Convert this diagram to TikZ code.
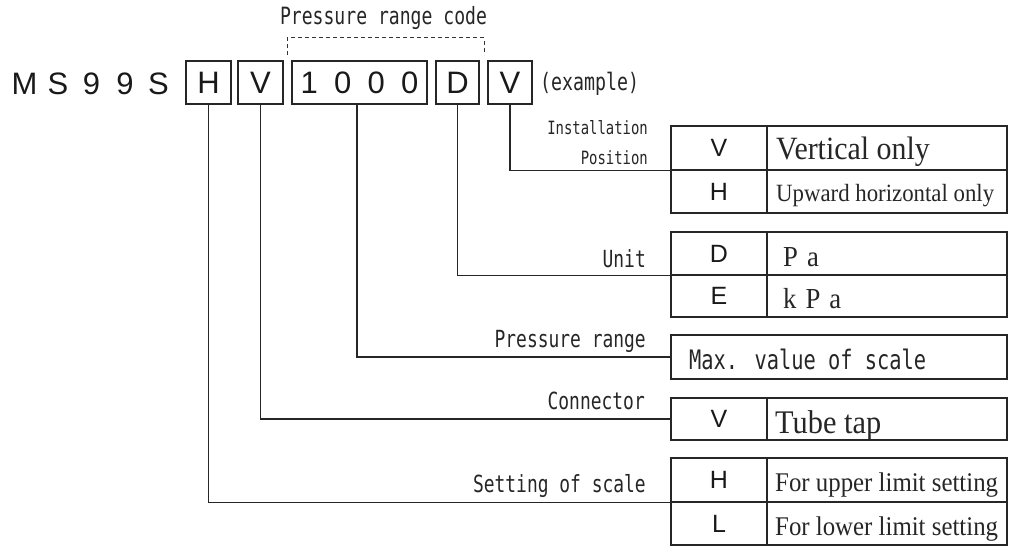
\documentclass[tikz,border=0pt]{standalone}
\usepackage{fontspec}
\usetikzlibrary{calc}
\newfontfamily\gothic[FakeStretch=0.76]{DejaVu Sans Mono}
\newfontfamily\arialf{Liberation Sans}
\newfontfamily\minchof[FakeStretch=0.92]{Liberation Serif}
\newcommand\fsz[1]{\fontsize{#1}{#1}\selectfont}
\newcommand\cch[1]{\makebox[33.5pt]{#1}}
\begin{document}
\begin{tikzpicture}[x=1pt,y=-1pt,
  ln/.style={draw=black!85, line width=1.2pt},
  codebox/.style={ln, rectangle, inner sep=0pt, minimum height=43pt, font=\arialf\fsz{31}, text=black!90},
  cell/.style={ln, rectangle, inner sep=0pt, font=\arialf\fsz{25}, text=black!90},
  gt/.style={inner sep=0pt, text=black!85},
  mt/.style={inner sep=0pt, text=black!85, anchor=base west},
]
\useasboundingbox (0,0) rectangle (1009,548);

% header
\node[gt, anchor=base, font=\gothic\fsz{23.8}] (prc) at (383.5,25) {Pressure range code};
\node[anchor=base, inner sep=0pt, font=\arialf\fsz{31}, text=black!90] (ms) at (91.5,95) {\cch{M}\cch{S}\cch{9}\cch{9}\cch{S}};
\node[codebox, minimum width=45pt] (bH) at (208.5,82.5) {H};
\node[codebox, minimum width=45pt] (bV1) at (260.5,82.5) {V};
\node[codebox, minimum width=135pt] (b1000) at (359.5,82.5) {\cch{1}\cch{0}\cch{0}\cch{0}};
\node[codebox, minimum width=43pt] (bD) at (457.5,82.5) {D};
\node[codebox, minimum width=44pt] (bV2) at (510,82.5) {V};
\node[gt, anchor=base west, font=\gothic\fsz{24}] (ex) at (540,91) {(example)};

\coordinate (dl) at (287,55);
\coordinate (dr) at (484,55);
\draw[draw=black!80, line width=1pt, dash pattern=on 4pt off 3pt] (dl) -- (287,38) -- (484,38) -- (dr);

% table 1: installation position
\node[cell, minimum width=96pt, minimum height=44pt] (t1a) at (719,148) {V};
\node[cell, minimum width=240pt, minimum height=44pt] (t1b) at (887,148) {};
\node[cell, minimum width=96pt, minimum height=43pt] (t1c) at (719,191.5) {H};
\node[cell, minimum width=240pt, minimum height=43pt] (t1d) at (887,191.5) {};
\node[mt, font=\minchof\fsz{32.5}] (d1a) at (776,160) {Vertical only};
\node[mt, font=\minchof\fsz{24.8}] (d1b) at (776,202) {Upward horizontal only};
\node[gt, anchor=base east, font=\gothic\fsz{18.3}] (l1a) at (648,135) {Installation};
\node[gt, anchor=base east, font=\gothic\fsz{18.3}] (l1b) at (648,165) {Position};

% table 2: unit
\node[cell, minimum width=96pt, minimum height=43pt] (t2a) at (719,253.5) {D};
\node[cell, minimum width=240pt, minimum height=43pt] (t2b) at (887,253.5) {};
\node[cell, minimum width=96pt, minimum height=42pt] (t2c) at (719,296) {E};
\node[cell, minimum width=240pt, minimum height=42pt] (t2d) at (887,296) {};
\node[mt, font=\minchof\fsz{29}] (d2a) at (783,266) {P\kern9pt a};
\node[mt, font=\minchof\fsz{29}] (d2b) at (783,308) {k\kern9pt P\kern9pt a};
\node[gt, anchor=base east, font=\gothic\fsz{23.6}] (l2) at (646,267) {Unit};

% box 3: pressure range
\node[cell, minimum width=336pt, minimum height=44pt] (t3) at (839,357) {};
\node[gt, anchor=base west, font=\gothic\fsz{26.8}] (d3) at (689,369) {Max. value of scale};
\node[gt, anchor=base east, font=\gothic\fsz{23.6}] (l3) at (646,347) {Pressure range};

% box 4: connector
\node[cell, minimum width=96pt, minimum height=42pt] (t4a) at (719,419) {V};
\node[cell, minimum width=240pt, minimum height=42pt] (t4b) at (887,419) {};
\node[mt, font=\minchof\fsz{33}] (d4) at (775,433) {Tube tap};
\node[gt, anchor=base east, font=\gothic\fsz{23.6}] (l4) at (645,409) {Connector};

% table 5: setting of scale
\node[cell, minimum width=96pt, minimum height=44pt] (t5a) at (719,480) {H};
\node[cell, minimum width=240pt, minimum height=44pt] (t5b) at (887,480) {};
\node[cell, minimum width=96pt, minimum height=43pt] (t5c) at (719,523.5) {L};
\node[cell, minimum width=240pt, minimum height=43pt] (t5d) at (887,523.5) {};
\node[mt, font=\minchof\fsz{27}] (d5a) at (775,491.5) {For upper limit setting};
\node[mt, font=\minchof\fsz{27}] (d5b) at (775,535) {For lower limit setting};
\node[gt, anchor=base east, font=\gothic\fsz{23.6}] (l5) at (646,492) {Setting of scale};

% connectors
\draw[ln] (bV2.south) |- (t1a.south west);
\draw[ln] (bD.south) |- (t2a.south west);
\draw[ln] ([xshift=-2.5pt]b1000.south) |- (t3.west);
\draw[ln] (bV1.south) |- (t4a.west);
\draw[ln] (bH.south) |- (t5a.south west);
\end{tikzpicture}
\end{document}
